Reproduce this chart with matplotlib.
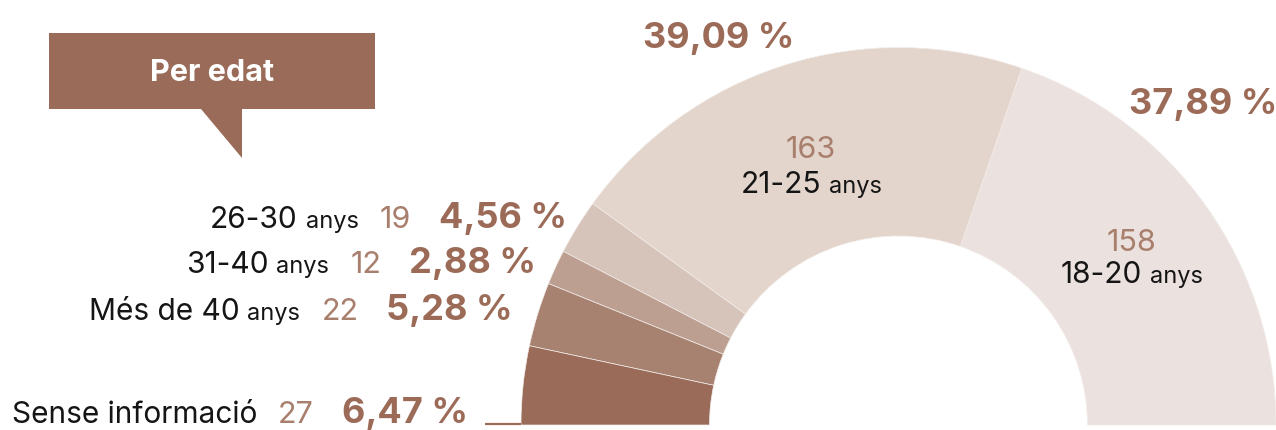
import matplotlib
matplotlib.use("Agg")
import matplotlib.pyplot as plt
from matplotlib.patches import Polygon

# ---- data ----
categories = ["18-20", "21-25", "26-30", "31-40", "Més de 40", "Sense informació"]
has_anys = [True, True, True, True, True, False]
counts = [158, 163, 19, 12, 22, 27]
percents = ["37,89 %", "39,09 %", "4,56 %", "2,88 %", "5,28 %", "6,47 %"]
slice_colors = ["#EBE1DE", "#E3D5CC", "#D6C4BB", "#BC9F90", "#A88270", "#9A6B58"]
title = "Per edat"

W, H = 1276, 430
FONT = "Inter"
PCT_C = "#9C6B57"
CNT_C = "#A87E6C"
TXT_C = "#151515"

fig = plt.figure(figsize=(W / 100, H / 100), dpi=100)
ax = fig.add_axes([0, 0, 1, 1])

cx, cy = 898.5, 5.0
R_out, R_in = 377.5, 189.0

total = sum(counts)
wedges, _ = ax.pie(counts + [total], startangle=0, counterclock=True,
                   colors=slice_colors + ["none"], center=(cx, cy), radius=R_out,
                   wedgeprops=dict(width=R_out - R_in, edgecolor="#F3EDEA", linewidth=0.5))
wedges[-1].set_visible(False)

ax.set_xlim(0, W)
ax.set_ylim(0, H)
ax.set_aspect("equal")
ax.axis("off")

fig.canvas.draw()
renderer = fig.canvas.get_renderer()


def Y(y_img):
    return H - y_img


def put(x, y, s, ha="left", **kw):
    t = ax.text(x, Y(y), s, ha=ha, va="baseline", family=FONT, **kw)
    bb = t.get_window_extent(renderer=renderer)
    return t, bb


def width_of(s, **kw):
    t = ax.text(0, 0, s, family=FONT, **kw)
    w = t.get_window_extent(renderer=renderer).width
    t.remove()
    return w


MAIN = dict(fontsize=21.5, color=TXT_C)
ANYS = dict(fontsize=17, color=TXT_C)
CNT = dict(fontsize=22, color=CNT_C, fontweight="normal")
PCT = dict(fontsize=26, color=PCT_C, fontweight="bold")

# ---- left side labels (small slices) ----
left_rows = [(2, 567, 228), (3, 536, 273), (4, 513, 320), (5, 468, 423)]
for i, xr, yb in left_rows:
    _, bb = put(xr, yb, percents[i], ha="right", **PCT)
    _, bb = put(bb.x0 - 28, yb, str(counts[i]), ha="right", **CNT)
    x = bb.x0 - 21
    if has_anys[i]:
        _, bb = put(x, yb, "anys", ha="right", **ANYS)
        x = bb.x0 - 8
    put(x, yb, categories[i], ha="right", **MAIN)

# leader line for the last slice
ax.plot([cx - R_out - 36, cx - R_out], [Y(424), Y(424)], color=PCT_C, lw=1.6,
        solid_capstyle="butt")

# ---- labels inside big slices ----
inside = [(0, 1132, 251, 283), (1, 811, 158, 193)]
for i, xc, yc, yl in inside:
    put(xc, yc, str(counts[i]), ha="center", **CNT)
    w1 = width_of(categories[i], **MAIN)
    w2 = width_of("anys", **ANYS)
    gap = 8
    x0 = xc - (w1 + gap + w2) / 2
    put(x0, yl, categories[i], ha="left", **MAIN)
    put(x0 + w1 + gap, yl, "anys", ha="left", **ANYS)

# top percentages for big slices
put(719, 48, percents[1], ha="center", **PCT)
put(1203, 114, percents[0], ha="center", **PCT)

# ---- "Per edat" callout ----
box = Polygon([(49, Y(33)), (375, Y(33)), (375, Y(109)), (242, Y(109)),
               (242, Y(158)), (201, Y(109)), (49, Y(109))],
              closed=True, facecolor="#9A6B58", edgecolor="none")
ax.add_patch(box)
ax.text(212, Y(73), title, ha="center", va="center", family=FONT,
        fontsize=22, fontweight="bold", color="white")

fig.savefig("out.png", dpi=100)
